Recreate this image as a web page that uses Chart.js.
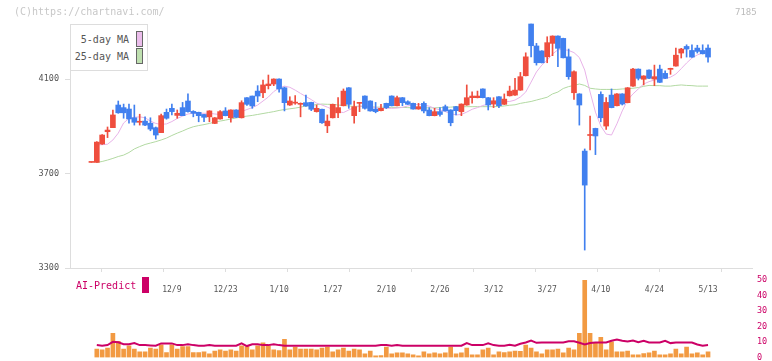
<!DOCTYPE html>
<html>
<head>
<meta charset="utf-8">
<script src="https://cdn.jsdelivr.net/npm/chart.js@4.4.1/dist/chart.umd.min.js"></script>
<style>
body { margin: 0; background: #fff; }
#wrap { position: relative; width: 772px; height: 361px; overflow: hidden; font-family: "DejaVu Sans Mono", monospace; }
#main, #vol { position: absolute; left: 0; }
#main { top: 0; }
#vol { top: 270px; }
.txt { position: absolute; white-space: nowrap; line-height: 12px; }
.sw { position: absolute; box-sizing: border-box; width: 7px; height: 16px; }
</style>
</head>
<body>
<div id="wrap">
  <canvas id="main" width="772" height="300"></canvas>
  <canvas id="vol" width="772" height="101"></canvas>

  <div class="txt" style="left:14px; top:6px; font-size:10px; color:#c8c8c8;">(C)https://chartnavi.com/</div>
  <div class="txt" style="left:735px; top:6px; font-size:9px; color:#bbb;">7185</div>

  <div style="position:absolute; left:70px; top:24px; width:78px; height:47px; box-sizing:border-box; border:1px solid #ddd; background:#fff;"></div>
  <div class="txt" style="left:70px; width:59px; text-align:right; top:34px; font-size:10px; color:#555;">5-day MA</div>
  <div class="txt" style="left:70px; width:59px; text-align:right; top:51px; font-size:10px; color:#555;">25-day MA</div>
  <div class="sw" style="left:136px; top:31px; background:#ebbdeb; border:1px solid #666;"></div>
  <div class="sw" style="left:136px; top:48px; background:#bfe0b0; border:1px solid #666;"></div>

  <div class="txt" style="left:76px; top:280px; font-size:10px; color:#cc0066;">AI-Predict</div>
  <div class="sw" style="left:142px; top:277px; background:#cc0066;"></div>
</div>
<script>
// trading days 2024/11/18 - 2025/5/13
var dates = ['11/18','11/19','11/20','11/21','11/22','11/25','11/26','11/27','11/28','11/29',
    '12/2','12/3','12/4','12/5','12/6','12/9','12/10','12/11','12/12','12/13',
    '12/16','12/17','12/18','12/19','12/20','12/23','12/24','12/25','12/26','12/27',
    '12/30','1/6','1/7','1/8','1/9','1/10','1/14','1/15','1/16','1/17',
    '1/20','1/21','1/22','1/23','1/24','1/27','1/28','1/29','1/30','1/31',
    '2/3','2/4','2/5','2/6','2/7','2/10','2/12','2/13','2/14','2/17',
    '2/18','2/19','2/20','2/21','2/25','2/26','2/27','2/28','3/3','3/4',
    '3/5','3/6','3/7','3/10','3/11','3/12','3/13','3/14','3/17','3/18',
    '3/19','3/21','3/24','3/25','3/26','3/27','3/28','3/31','4/1','4/2',
    '4/3','4/4','4/7','4/8','4/9','4/10','4/11','4/14','4/15','4/16',
    '4/17','4/18','4/21','4/22','4/23','4/24','4/25','4/28','4/30','5/1',
    '5/2','5/7','5/8','5/9','5/12','5/13'];

var opens = [3747,3747,3825,3877,3894,3990,3979,3973,3936,3917,
    3922,3913,3894,3873,3959,3976,3946,3979,4007,3963,
    3959,3950,3940,3912,3931,3965,3936,3969,3936,4021,
    4028,4049,4042,4072,4079,4100,4063,3990,3998,3993,
    4000,4001,3962,3972,3902,3936,3957,3987,4063,3945,
    3997,4028,4007,3973,3966,3997,4028,3987,4021,4004,
    3997,3973,3997,3969,3945,3962,3983,3969,3983,3962,
    3990,4021,4021,4058,4021,3994,4025,3993,4029,4032,
    4053,4114,4333,4240,4219,4194,4251,4282,4272,4194,
    4042,4037,3795,3861,3891,4035,3901,4032,3987,4037,
    4000,4070,4142,4099,4138,4100,4142,4124,4141,4155,
    4210,4238,4221,4231,4221,4231];

var closes = [3747,3833,3863,3884,3948,3957,3957,3931,3917,3921,
    3905,3888,3863,3945,3934,3962,3955,3945,3962,3955,
    3945,3938,3965,3936,3962,3945,3969,3938,4000,3993,
    3986,4028,4075,4079,4100,4058,4000,4007,4002,3997,
    3986,3972,3976,3915,3922,3993,3979,4049,3993,3983,
    4000,3976,3965,3962,3976,3979,3987,4021,4000,3993,
    3973,3983,3965,3945,3962,3950,3965,3915,3966,3994,
    4021,4028,4028,4021,3990,4008,3987,4015,4049,4053,
    4110,4194,4241,4169,4169,4254,4282,4230,4190,4110,
    4131,3990,3651,3865,3859,3936,4001,3979,4037,3994,
    4063,4142,4103,4113,4103,4110,4086,4103,4145,4201,
    4227,4227,4193,4217,4207,4193];

var highs = [3747,3835,3865,3897,3969,4007,3994,3994,3990,3951,
    3940,3936,3897,3952,3973,3994,3969,4001,4037,3966,
    3960,3951,3966,3937,3966,3979,3970,3970,4008,4022,
    4028,4072,4096,4117,4101,4101,4066,4025,4030,3999,
    4032,4002,3990,3973,3948,3994,4021,4058,4064,4007,
    4001,4029,4008,4001,3993,3998,4029,4028,4022,4008,
    3998,3997,4004,3979,3976,3979,3990,3970,3984,3995,
    4075,4046,4049,4059,4022,4021,4026,4037,4070,4103,
    4128,4211,4333,4251,4220,4279,4283,4283,4273,4227,
    4135,4038,3804,3943,3892,4046,4021,4058,4038,4038,
    4064,4145,4143,4114,4139,4159,4159,4135,4146,4231,
    4230,4245,4245,4243,4245,4245];

var lows = [3747,3747,3823,3852,3894,3955,3934,3913,3905,3905,
    3903,3881,3846,3873,3930,3948,3934,3945,3960,3940,
    3919,3919,3919,3911,3930,3944,3917,3937,3935,3988,
    3976,4004,4021,4058,4072,4044,3965,3988,3993,3940,
    3984,3966,3960,3912,3873,3935,3936,3986,3976,3913,
    3962,3972,3964,3957,3965,3975,3986,3986,3987,3992,
    3972,3972,3957,3944,3944,3943,3964,3902,3948,3945,
    3989,3998,4020,4020,3969,3979,3979,3992,4028,4031,
    4052,4113,4194,4159,4168,4169,4199,4152,4189,4099,
    4014,3905,3376,3800,3780,3919,3887,3978,3986,3990,
    3999,4069,4096,4075,4102,4072,4085,4102,4120,4154,
    4189,4193,4192,4210,4206,4171];

var ma5 = [null,3821,3822,3824,3842,3871,3914,3933,3938,3940,
    3936,3922,3912,3908,3910,3920,3933,3943,3952,3955,
    3955,3955,3955,3952,3950,3948,3950,3956,3962,3971,
    3979,3990,4007,4024,4047,4062,4070,4065,4053,4039,
    4026,4013,3998,3990,3981,3971,3962,3958,3969,3979,
    3985,3986,3983,3979,3976,3976,3976,3977,3980,3986,
    3991,3993,3990,3985,3976,3969,3962,3954,3948,3950,
    3960,3972,3979,3988,3994,4000,4003,4004,4005,4011,
    4024,4045,4087,4130,4159,4180,4206,4224,4225,4221,
    4212,4191,4138,4045,3960,3901,3867,3863,3910,3965,
    4011,4037,4058,4079,4089,4096,4100,4102,4108,4121,
    4144,4168,4189,4202,4210,4212];

var ma25 = [null,3747,3751,3757,3764,3772,3778,3789,3804,3814,
    3823,3829,3835,3842,3850,3861,3871,3880,3890,3898,
    3903,3907,3912,3918,3922,3926,3931,3935,3940,3943,
    3946,3950,3954,3958,3962,3967,3971,3974,3977,3981,
    3986,3988,3992,3994,3993,3993,3990,3988,3986,3984,
    3985,3983,3983,3981,3981,3980,3980,3980,3980,3979,
    3978,3978,3978,3978,3978,3979,3980,3981,3983,3983,
    3983,3983,3983,3983,3983,3983,3984,3986,3989,3991,
    3997,4001,4005,4011,4017,4023,4037,4045,4060,4068,
    4073,4079,4073,4061,4058,4056,4056,4056,4056,4058,
    4059,4061,4064,4069,4073,4072,4072,4070,4070,4073,
    4075,4073,4072,4070,4070,4070];

var volumes = [null,5.5,4.9,6.1,15.6,10.5,5.5,7.6,5.5,3.6,
    3.6,6.1,5.5,8.2,3.2,8.2,5.5,7.0,7.0,3.2,
    3.2,3.6,2.3,4.2,4.9,4.2,4.9,4.2,7.6,7.0,
    4.9,7.6,9.5,7.6,4.9,4.4,11.8,4.9,6.8,5.5,
    5.5,5.5,4.9,6.1,6.8,3.6,4.9,6.1,4.2,5.5,
    4.9,2.3,4.2,1.1,1.3,6.8,2.3,3.0,3.0,2.3,
    1.7,1.1,3.6,2.3,3.0,2.3,3.0,6.8,2.3,3.0,
    6.1,1.7,1.7,4.9,6.1,1.7,3.6,3.2,3.6,4.2,
    4.0,8.0,6.1,3.6,2.3,4.9,4.9,5.5,3.0,6.1,
    4.9,15.6,49.8,15.6,9.3,13.1,4.9,10.1,3.6,3.6,
    4.2,1.7,1.7,2.5,3.0,4.2,1.7,1.7,2.3,5.5,
    2.3,6.8,2.3,3.0,1.7,3.6];

var aiPredict = [null,8.0,7.6,8.0,10.1,9.8,8.6,8.6,9.3,8.0,
    8.0,7.8,7.6,9.1,9.1,9.1,8.0,8.0,8.6,8.0,
    7.6,7.6,8.0,7.6,7.6,7.6,7.6,7.6,9.1,7.4,
    8.6,8.6,8.0,8.0,8.6,8.0,7.6,7.6,7.6,7.6,
    7.6,7.6,7.6,7.6,7.6,7.6,7.6,7.6,7.6,7.6,
    7.6,7.6,7.6,7.6,8.0,8.0,7.6,8.0,7.6,7.6,
    7.6,7.6,7.6,7.6,7.6,7.6,7.6,7.6,7.6,7.6,
    9.3,8.0,8.0,8.0,9.1,8.0,7.6,7.6,8.2,7.6,
    8.9,9.7,11.0,9.5,9.7,9.7,9.7,9.7,9.7,10.5,
    10.5,9.5,8.4,9.3,9.7,9.7,9.7,10.8,11.6,10.8,
    10.3,11.0,9.9,10.8,9.7,9.7,9.7,10.8,9.3,9.7,
    9.7,9.7,9.7,8.4,7.6,8.0];

var dateTickIdx = [15, 25, 35, 45, 55, 65, 75, 85, 95, 105, 115];
var priceTicks = [3300, 3700, 4100];
var volumeTicks = [0, 10, 20, 30, 40, 50];

var X_MIN = -4, X_MAX = 123.2;
var UP = '#ef4e3e', DOWN = '#4180ef';
var tickFont = { family: 'DejaVu Sans Mono', size: 8.5 };

var candleColors = [];
var bodyData = [], wickData = [], ma5Data = [], ma25Data = [], volData = [], aiData = [];
for (var i = 0; i < dates.length; i++) {
    candleColors.push(closes[i] >= opens[i] ? UP : DOWN);
    bodyData.push({ x: i, y: [opens[i], closes[i]] });
    wickData.push({ x: i, y: [lows[i], highs[i]] });
    ma5Data.push({ x: i, y: ma5[i] });
    ma25Data.push({ x: i, y: ma25[i] });
    volData.push({ x: i, y: volumes[i] });
    aiData.push({ x: i, y: aiPredict[i] });
}

function plainNumber(v) {
    return String(v);
}

new Chart(document.getElementById('main'), {
    type: 'bar',
    data: {
        datasets: [
            { label: 'body', data: bodyData, backgroundColor: candleColors, barThickness: 5, minBarLength: 1, grouped: false, order: 0, clip: false },
            { label: 'wick', data: wickData, backgroundColor: candleColors, barThickness: 1, grouped: false, order: 1, clip: false },
            { type: 'line', label: '5-day MA', data: ma5Data, borderColor: '#e8b2e8', borderWidth: 1, pointRadius: 0, order: 2 },
            { type: 'line', label: '25-day MA', data: ma25Data, borderColor: '#b2d9a2', borderWidth: 1, pointRadius: 0, order: 3 }
        ]
    },
    options: {
        responsive: false,
        animation: false,
        layout: { padding: { top: 24, right: 20, left: 0, bottom: 0 } },
        plugins: { legend: { display: false }, tooltip: { enabled: false } },
        scales: {
            x: {
                type: 'linear', min: X_MIN, max: X_MAX, offset: false, weight: 0,
                grid: { drawOnChartArea: false, tickLength: 4, color: '#ddd' },
                border: { color: '#ddd' },
                ticks: { display: false },
                afterBuildTicks: function(s) {
                    var t = [];
                    for (var k = 0; k <= 11; k++) t.push({ value: X_MIN + k * (X_MAX - X_MIN) / 11 });
                    s.ticks = t;
                },
                afterFit: function(s) { s.height = 4; }
            },
            xl: {
                type: 'linear', position: 'bottom', min: X_MIN, max: X_MAX, offset: false, weight: 1,
                grid: { display: false },
                border: { display: false },
                ticks: {
                    autoSkip: false, maxRotation: 0, padding: 5, color: '#555',
                    font: { family: 'DejaVu Sans Mono', size: 8 },
                    callback: function(v) { return dates[v]; }
                },
                afterBuildTicks: function(s) {
                    s.ticks = dateTickIdx.map(function(v) { return { value: v }; });
                },
                afterFit: function(s) { s.height = 28; }
            },
            y: {
                position: 'left', min: 3300, max: 4333,
                grid: { drawOnChartArea: false, tickLength: 5, color: '#ddd' },
                border: { color: '#ddd' },
                ticks: { padding: 6, color: '#555', font: tickFont, callback: plainNumber },
                afterBuildTicks: function(s) {
                    s.ticks = priceTicks.map(function(v) { return { value: v }; });
                },
                afterFit: function(s) { s.width = 70; }
            }
        }
    }
});

new Chart(document.getElementById('vol'), {
    type: 'bar',
    data: {
        datasets: [
            { type: 'line', label: 'AI-Predict', data: aiData, borderColor: '#cc0066', borderWidth: 2, pointRadius: 0, order: 0 },
            { label: 'volume', data: volData, backgroundColor: '#f29a42', barThickness: 4, order: 1 }
        ]
    },
    options: {
        responsive: false,
        animation: false,
        layout: { padding: { top: 8, right: 0, left: 70, bottom: 13.5 } },
        plugins: { legend: { display: false }, tooltip: { enabled: false } },
        scales: {
            x: { type: 'linear', min: X_MIN, max: X_MAX, offset: false, display: false },
            y: {
                position: 'right', min: 0, max: 50,
                grid: { display: false, drawTicks: false, tickLength: 0 },
                border: { display: false },
                ticks: { padding: 5, color: '#cc0066', font: tickFont, callback: plainNumber },
                afterBuildTicks: function(s) {
                    s.ticks = volumeTicks.map(function(v) { return { value: v }; });
                },
                afterFit: function(s) { s.width = 20; }
            }
        }
    }
});
</script>
</body>
</html>
